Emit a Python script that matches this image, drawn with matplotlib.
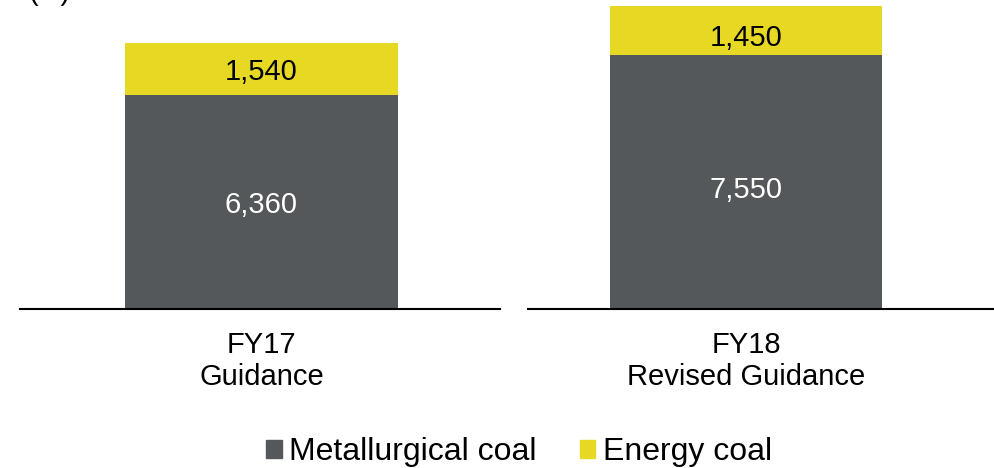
import matplotlib.pyplot as plt
from matplotlib.patches import Patch

plt.rcParams['font.family'] = ['Liberation Sans', 'DejaVu Sans']

# data
categories = ['FY17\nGuidance', 'FY18\nRevised Guidance']
metallurgical = [6360, 7550]
energy = [1540, 1450]

COLOR_MET = '#54585A'
COLOR_ENERGY = '#E6D823'

W, H = 994, 468
fig = plt.figure(figsize=(W / 100, H / 100), dpi=100)

ymax = 9183
# (left px, right px, bar center px, bar width px)
panels = [(20, 500, 261.5, 273), (528, 994, 746, 272)]
label_shift = [-2, -5.5]  # points, value labels sit a bit low in the original

for i, (x0, x1, xc, bw) in enumerate(panels):
    ax = fig.add_axes([x0 / W, (H - 309) / H, (x1 - x0) / W, 309 / H])
    ax.bar(0, metallurgical[i], width=1, color=COLOR_MET)
    ax.bar(0, energy[i], width=1, bottom=metallurgical[i], color=COLOR_ENERGY)
    ax.annotate(f'{metallurgical[i]:,}', (0, metallurgical[i] / 2),
                xytext=(0, label_shift[i]), textcoords='offset points',
                ha='center', va='center', color='white', fontsize=21)
    ax.annotate(f'{energy[i]:,}', (0, metallurgical[i] + energy[i] / 2),
                xytext=(0, label_shift[i]), textcoords='offset points',
                ha='center', va='center', color='black', fontsize=21)
    ax.set_xlim((x0 - xc) / bw, (x1 - xc) / bw)
    ax.set_ylim(0, ymax)
    for s in ['top', 'right', 'left']:
        ax.spines[s].set_visible(False)
    ax.spines['bottom'].set_linewidth(1.5)
    ax.spines['bottom'].set_color('black')
    ax.set_yticks([])
    ax.set_xticks([0])
    ax.set_xticklabels([categories[i]], fontsize=21, linespacing=1.15)
    ax.tick_params(axis='x', length=0, pad=16)
    ax.patch.set_visible(False)

# unit label, cut off at top of the image
fig.text(28 / W, 1.0, '(kt)', fontsize=21, ha='left', va='baseline')

handles = [Patch(color=COLOR_MET, label='Metallurgical coal'),
           Patch(color=COLOR_ENERGY, label='Energy coal')]
fig.legend(handles=handles, loc='center', bbox_to_anchor=(0.5225, 0.034), ncol=2,
           frameon=False, fontsize=23, handlelength=0.48, handleheight=0.48,
           handletextpad=0.25, columnspacing=1.35)

fig.savefig('out.png', dpi=100)
